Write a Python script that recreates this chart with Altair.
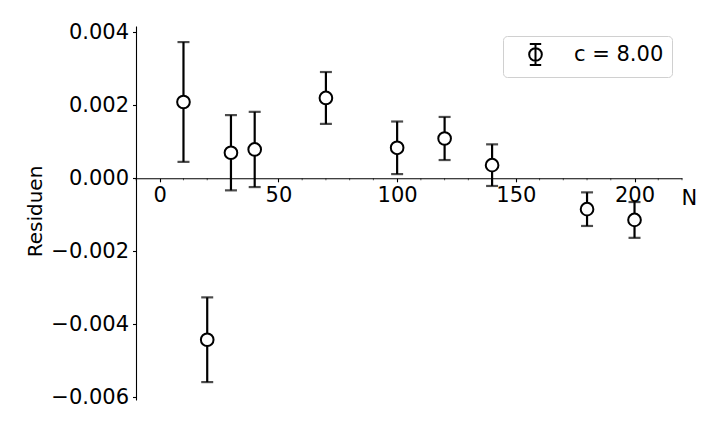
import altair as alt
import pandas as pd

# data
N_values = [10, 20, 30, 40, 70, 100, 120, 140, 180, 200]
residuals = [2.09e-3, -4.42e-3, 0.70e-3, 0.79e-3, 2.20e-3, 0.835e-3, 1.09e-3, 0.36e-3, -0.845e-3, -1.14e-3]
errors = [1.64e-3, 1.16e-3, 1.03e-3, 1.03e-3, 0.71e-3, 0.72e-3, 0.59e-3, 0.57e-3, 0.46e-3, 0.49e-3]
legend_label = "c = 8.00"
x_ticks = [0, 50, 100, 150, 200]
y_ticks = [-0.006, -0.004, -0.002, 0.0, 0.002, 0.004]
minor_x = [v for v in range(-10, 221, 10) if v % 50 != 0]

df = pd.DataFrame({"N": N_values, "res": residuals, "err": errors})
df["lo"] = df["res"] - df["err"]
df["hi"] = df["res"] + df["err"]
df["label"] = legend_label
minor_df = pd.DataFrame({"N": minor_x})

FONT = "DejaVu Sans"
FS = 21
W, H = 546, 374
XDOM = [-10, 220]
YDOM = [-0.00607, 0.00417]
zero_from_bottom = H * (0 - YDOM[0]) / (YDOM[1] - YDOM[0])

xscale = alt.Scale(domain=XDOM, nice=False, zero=False)
yscale = alt.Scale(domain=YDOM, nice=False, zero=False)

x_enc = alt.X(
    "N:Q", scale=xscale,
    axis=alt.Axis(
        values=x_ticks, format="d", grid=False, offset=-zero_from_bottom,
        domainColor="black", domainWidth=1.1, tickColor="black", tickWidth=1.1,
        tickSize=3.5, labelPadding=3, labelFont=FONT, labelFontSize=FS,
        labelColor="black", labelFlush=False,
        title="N", titleFont=FONT, titleFontSize=FS, titleFontWeight="normal",
        titleColor="black", titleX=545, titleY=20, titleAlign="left",
        titleBaseline="middle", titleAnchor="start",
    ),
)
y_axis = alt.Axis(
    values=y_ticks, format=".3f", grid=False,
    domainColor="black", domainWidth=1.1, tickColor="black", tickWidth=1.1,
    tickSize=3.5, labelPadding=4, labelFont=FONT, labelFontSize=FS,
    labelColor="black",
    title="Residuen", titleFont=FONT, titleFontSize=20, titleFontWeight="normal",
    titleColor="black", titleX=-101, titleY=185, titleAngle=270,
    titleAlign="center", titleBaseline="middle",
)

base = alt.Chart(df)

bars = base.mark_rule(color="black", strokeWidth=2.2).encode(
    x=x_enc,
    y=alt.Y("lo:Q", scale=yscale, axis=y_axis),
    y2="hi:Q",
)
caps_lo = base.mark_tick(color="black", thickness=2.2, size=12, orient="horizontal").encode(
    x="N:Q", y=alt.Y("lo:Q", scale=yscale)
)
caps_hi = base.mark_tick(color="black", thickness=2.2, size=12, orient="horizontal").encode(
    x="N:Q", y=alt.Y("hi:Q", scale=yscale)
)

legend_symbol = (
    "M-1,0A1,1,0,1,1,1,0A1,1,0,1,1,-1,0"
    "M0,-1.65L0,1.65M-0.9,-1.65L0.9,-1.65M-0.9,1.65L0.9,1.65"
)

points = base.mark_point(
    shape="circle", size=160, fill="white", fillOpacity=1, strokeWidth=2, opacity=1
).encode(
    x="N:Q",
    y=alt.Y("res:Q", scale=yscale),
    stroke=alt.Stroke(
        "label:N", scale=alt.Scale(range=["black"]),
        legend=alt.Legend(
            title=None, orient="none", legendX=367, legendY=10,
            symbolType=legend_symbol, symbolSize=160, symbolStrokeWidth=2,
            symbolStrokeColor="black", symbolFillColor="transparent",
            symbolOffset=14, labelOffset=28,
            labelFont=FONT, labelFontSize=FS, labelColor="black",
            padding=8, strokeColor="#d0d0d0", cornerRadius=4, fillColor="white",
        ),
    ),
)

minor = alt.Chart(minor_df).mark_point(
    shape="M0,0L0,1", size=16, color="black", strokeWidth=0.9, filled=False
).encode(x="N:Q", y=alt.YDatum(0))

chart = alt.layer(minor, bars, caps_lo, caps_hi, points).properties(
    width=W, height=H,
    background="white",
    autosize=alt.AutoSizeParams(type="none"),
    padding={"left": 128, "top": 18, "right": 30, "bottom": 10},
).configure_view(strokeWidth=0, stroke="transparent")

chart.save("out.html", embed_options={"renderer": "svg", "actions": False})
